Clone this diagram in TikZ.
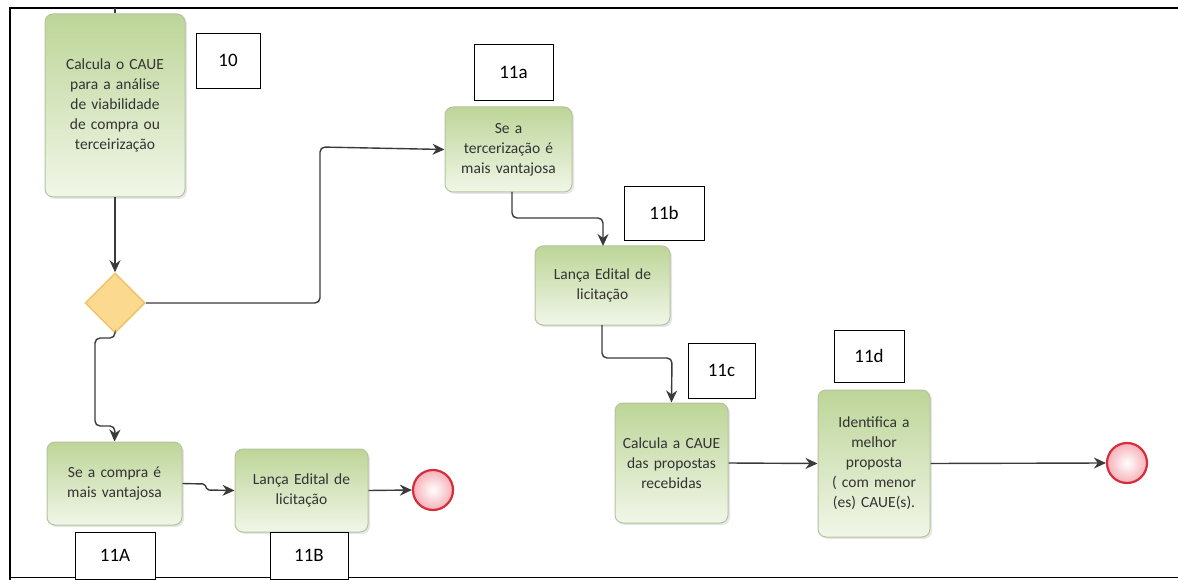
\documentclass[tikz,border=0pt]{standalone}
\usepackage{fontspec}
\setmainfont{Carlito}
\usetikzlibrary{shapes.geometric,arrows.meta,shadows,calc}
\definecolor{taskTop}{HTML}{BDD598}
\definecolor{taskBot}{HTML}{F1F6E8}
\definecolor{taskBorder}{HTML}{B4C49E}
\definecolor{taskText}{HTML}{333333}
\definecolor{connc}{HTML}{3A3A3A}
\definecolor{gwFill}{HTML}{FBD98E}
\definecolor{gwBorder}{HTML}{EFC46A}
\definecolor{endBorder}{HTML}{D42D3C}
\definecolor{endFill}{HTML}{F7B0B8}
\begin{document}
\begin{tikzpicture}[x=1pt,y=-1pt,
  task/.style={draw=taskBorder, line width=1pt, rounded corners=8pt,
    top color=taskTop, bottom color=taskBot, text=taskText, align=center,
    font=\fontsize{15.5}{20}\selectfont, inner sep=2pt,
    drop shadow={shadow xshift=2pt, shadow yshift=-2pt, opacity=0.2, fill=gray}},
  lab/.style={draw=black, line width=0.9pt, fill=white, inner sep=0pt,
    font=\fontsize{19}{19}\selectfont},
  conn/.style={draw=connc, line width=1.4pt, rounded corners=5pt,
    -{Stealth[length=12pt,width=11pt]}},
  gw/.style={diamond, draw=gwBorder, line width=1.5pt, fill=gwFill,
    minimum width=60pt, minimum height=60pt, inner sep=0pt},
  endev/.style={circle, draw=endBorder, line width=2.2pt,
    inner color=white, outer color=endFill, minimum size=40pt, inner sep=0pt}
]
\useasboundingbox (0,0) rectangle (1178,580);
% frame
\draw[line width=1.6pt] (10,580) -- (10,8) -- (1178,8);
\draw[line width=1.6pt] (10,577.5) -- (1178,577.5);

% tasks
\node[task, minimum width=140pt, minimum height=183pt, text width=125pt] (t10) at (115,105.5)
  {Calcula o CAUE\\para a análise\\de viabilidade\\de compra ou\\terceirização};
\node[task, minimum width=127pt, minimum height=85pt, text width=118pt] (t11a) at (508.5,149.5)
  {Se a\\tercerização é\\mais vantajosa};
\node[task, minimum width=135pt, minimum height=79pt, text width=125pt] (t11b) at (602.5,285.5)
  {Lança Edital de\\licitação};
\node[task, minimum width=113pt, minimum height=120pt, text width=108pt] (t11c) at (671.5,463)
  {Calcula a CAUE\\das propostas\\recebidas};
\node[task, minimum width=112pt, minimum height=147pt, text width=106pt] (t11d) at (874,463.5)
  {Identifica a\\melhor\\proposta\\( com menor\\(es) CAUE(s).};
\node[task, minimum width=135pt, minimum height=83pt, text width=125pt] (t11A) at (114.5,483.5)
  {Se a compra é\\mais vantajosa};
\node[task, minimum width=133pt, minimum height=83pt, text width=125pt] (t11B) at (301.5,490.5)
  {Lança Edital de\\licitação};

% gateway and end events
\node[gw] (g) at (115,303) {};
\node[endev] (e1) at (433,490) {};
\node[endev] (e2) at (1127,463) {};

% labels
\node[lab, minimum width=64pt, minimum height=55pt] (l10) at (228,60.5) {10};
\node[lab, minimum width=79pt, minimum height=56pt] (l11a) at (513.5,72) {11a};
\node[lab, minimum width=80pt, minimum height=54pt] (l11b) at (664,213) {11b};
\node[lab, minimum width=67pt, minimum height=55pt] (l11c) at (721.5,370.5) {11c};
\node[lab, minimum width=70pt, minimum height=52pt] (l11d) at (869,356) {11d};
\node[lab, minimum width=80pt, minimum height=47pt] (l11A) at (115,555.5) {11A};
\node[lab, minimum width=78pt, minimum height=47pt] (l11B) at (309,555.5) {11B};

% connectors
\coordinate (top) at (115,8);
\draw[draw=connc, line width=1.4pt] (top) -- (t10.north);
\draw[conn] (t10.south) -- (g.north);
\draw[conn] (g.east) -- (320,303) -- (320,147) -- (t11a.west);
\draw[conn] (g.south) -- (115,338) -- (95,338) -- (95,426) -- (115,426) -- (t11A.north);
\draw[conn, rounded corners=2pt] (t11A.east) -- (205,484) -- (207,490) -- (t11B.west);
\draw[conn] (t11B.east) -- (e1.west);
\draw[conn] (512,192) -- (512,218) -- (603,218) -- (603,246);
\draw[conn] (602,325) -- (602,358) -- (672,358) -- (t11c.north);
\draw[conn] (t11c.east) -- (t11d.west);
\draw[conn] (t11d.east) -- (e2.west);
\end{tikzpicture}
\end{document}
